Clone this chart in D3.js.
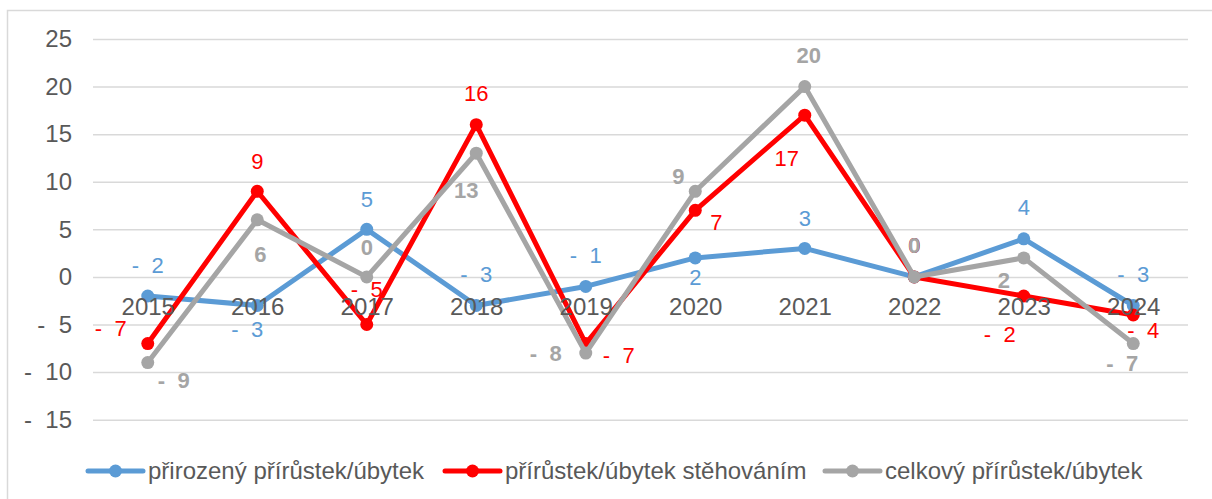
<!DOCTYPE html>
<html>
<head>
<meta charset="utf-8">
<script src="https://cdn.jsdelivr.net/npm/d3@7"></script>
<style>
  body { margin: 0; background: #fff; }
  svg { display: block; font-family: Arial, "Liberation Sans", sans-serif; }
</style>
</head>
<body>
<div id="chart"></div>
<script>
var width = 1212,
    height = 499;

// data
var years = ["2015", "2016", "2017", "2018", "2019", "2020", "2021", "2022", "2023", "2024"];
var prirozeny = [-2, -3, 5, -3, -1, 2, 3, 0, 4, -3];
var stehovanim = [-7, 9, -5, 16, -7, 7, 17, 0, -2, -4];
var celkovy = [-9, 6, 0, 13, -8, 9, 20, 0, 2, -7];
var seriesNames = ["přirozený přírůstek/úbytek", "přírůstek/úbytek stěhováním", "celkový přírůstek/úbytek"];
var yTicks = [-15, -10, -5, 0, 5, 10, 15, 20, 25];

var colors = ["#5b9bd5", "#ff0000", "#a5a5a5"];

// where each data label sits relative to its point [dx, dy]
var labelOffsets = [
  [[0,-31],[-10,24],[0,-30],[0,-31],[0,-31],[0,19],[0,-30],[0,-32],[0,-32],[0,-31]],
  [[-37,-15],[0,-30],[0,-35],[0,-31],[33,12],[21,12],[-18,43],[0,-32],[-24,38],[10,15]],
  [[26,18],[3,34],[0,-30],[-10,37],[-40,0],[-17,-15],[4,-31],[0,-32],[-20,22],[-11,20]]
];

var series = [prirozeny, stehovanim, celkovy].map(function(vals, i) {
  return {name: seriesNames[i], color: colors[i], values: vals, offsets: labelOffsets[i], bold: i === 2};
});

var x = d3.scalePoint()
    .domain(years)
    .range([93, 1188])
    .padding(0.5);

var y = d3.scaleLinear()
    .domain([-15, 25])
    .range([419.7, 39]);

function fmt(v) {
  return v < 0 ? "-\u00a0\u00a0" + Math.abs(v) : String(v);
}

var svg = d3.select("#chart").append("svg")
    .attr("width", width)
    .attr("height", height);

// chart border
svg.append("rect")
    .attr("x", 7.5).attr("y", 10.5)
    .attr("width", 1300).attr("height", 600)
    .attr("fill", "none")
    .attr("stroke", "#d9d9d9")
    .attr("stroke-width", 1.5);

// y axis with gridlines
var yAxis = svg.append("g")
    .attr("transform", "translate(93,0)")
    .call(d3.axisLeft(y)
      .tickValues(yTicks)
      .tickSizeInner(-(1188 - 93))
      .tickSizeOuter(0)
      .tickPadding(21)
      .tickFormat(fmt));
yAxis.select(".domain").remove();
yAxis.selectAll(".tick line")
    .attr("stroke", "#d9d9d9")
    .attr("stroke-width", 1.5);
yAxis.selectAll(".tick text")
    .attr("fill", "#595959")
    .style("font-size", "24px");

// lines
var line = d3.line()
    .x(function(d, i) { return x(years[i]); })
    .y(function(d) { return y(d); });

var sg = svg.selectAll("g.series")
    .data(series)
    .enter().append("g")
    .attr("class", "series");

sg.append("path")
    .attr("d", function(d) { return line(d.values); })
    .attr("fill", "none")
    .attr("stroke", function(d) { return d.color; })
    .attr("stroke-width", 5)
    .attr("stroke-linejoin", "round")
    .attr("stroke-linecap", "round");

sg.selectAll("circle")
    .data(function(d) { return d.values.map(function(v, i) { return {v: v, i: i, s: d}; }); })
    .enter().append("circle")
    .attr("cx", function(d) { return x(years[d.i]); })
    .attr("cy", function(d) { return y(d.v); })
    .attr("r", 6.5)
    .attr("fill", function(d) { return d.s.color; });

// data labels
series.forEach(function(s) {
  svg.append("g").selectAll("text")
      .data(s.values)
      .enter().append("text")
      .attr("x", function(d, i) { return x(years[i]) + s.offsets[i][0]; })
      .attr("y", function(d, i) { return y(d) + s.offsets[i][1]; })
      .attr("dy", "0.35em")
      .attr("text-anchor", "middle")
      .attr("fill", s.color)
      .style("font-size", "22px")
      .style("font-weight", s.bold ? "bold" : "normal")
      .text(fmt);
});

// category labels drawn on top
var xAxis = svg.append("g")
    .attr("transform", "translate(0," + y(0) + ")")
    .call(d3.axisBottom(x).tickSize(0).tickPadding(21));
xAxis.select(".domain").remove();
xAxis.selectAll(".tick text")
    .attr("fill", "#595959")
    .style("font-size", "24px");

// legend
var legendX = [88, 445, 825];
var legend = svg.selectAll("g.legend")
    .data(series)
    .enter().append("g")
    .attr("class", "legend")
    .attr("transform", function(d, i) { return "translate(" + legendX[i] + ",471)"; });

legend.append("line")
    .attr("x1", 0).attr("x2", 55)
    .attr("stroke", function(d) { return d.color; })
    .attr("stroke-width", 5)
    .attr("stroke-linecap", "round");

legend.append("circle")
    .attr("cx", 27.5)
    .attr("r", 6.5)
    .attr("fill", function(d) { return d.color; });

legend.append("text")
    .attr("x", 60)
    .attr("dy", "0.35em")
    .attr("fill", "#595959")
    .style("font-size", "24px")
    .text(function(d) { return d.name; });
</script>
</body>
</html>
